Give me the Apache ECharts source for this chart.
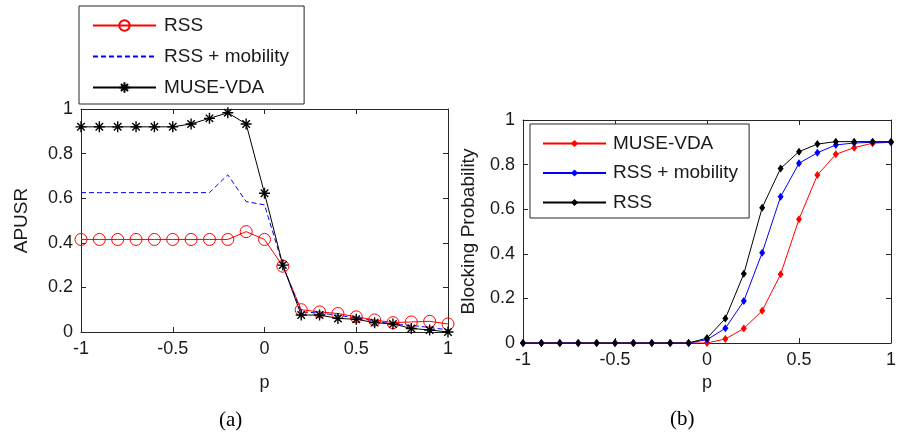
<!DOCTYPE html>
<html>
<head>
<meta charset="utf-8">
<script src="https://cdn.jsdelivr.net/npm/echarts@6/dist/echarts.min.js"></script>
<style>
  html, body { margin: 0; padding: 0; background: #fff; }
  #chart { width: 899px; height: 436px; }
</style>
</head>
<body>
<div id="chart"></div>
<script>
// p values shared by both panels
var pVals = [-1, -0.9, -0.8, -0.7, -0.6, -0.5, -0.4, -0.3, -0.2, -0.1, 0,
             0.1, 0.2, 0.3, 0.4, 0.5, 0.6, 0.7, 0.8, 0.9, 1];

// (a) APUSR
var apusrRss  = [0.415, 0.415, 0.415, 0.415, 0.415, 0.415, 0.415, 0.415, 0.415, 0.45, 0.415,
                 0.295, 0.10, 0.09, 0.083, 0.068, 0.054, 0.042, 0.045, 0.048, 0.036];
var apusrMob  = [0.625, 0.625, 0.625, 0.625, 0.625, 0.625, 0.625, 0.625, 0.705, 0.585, 0.57,
                 0.30, 0.09, 0.085, 0.075, 0.063, 0.05, 0.035, 0.03, 0.02, 0.01];
var apusrMuse = [0.92, 0.92, 0.92, 0.92, 0.92, 0.92, 0.933, 0.958, 0.983, 0.933, 0.622,
                 0.30, 0.076, 0.076, 0.061, 0.057, 0.042, 0.036, 0.016, 0.009, 0.0];

// (b) Blocking Probability
var bpMuse = [0, 0, 0, 0, 0, 0, 0, 0, 0, 0, 0,
              0.018, 0.065, 0.145, 0.308, 0.555, 0.753, 0.846, 0.876, 0.896, 0.9];
var bpMob  = [0, 0, 0, 0, 0, 0, 0, 0, 0, 0, 0.015,
              0.066, 0.188, 0.405, 0.656, 0.806, 0.853, 0.888, 0.897, 0.9, 0.9];
var bpRss  = [0, 0, 0, 0, 0, 0, 0, 0, 0, 0, 0.022,
              0.11, 0.31, 0.607, 0.783, 0.858, 0.892, 0.903, 0.903, 0.903, 0.903];

function pairs(ys) {
  return pVals.map(function (p, i) { return [p, ys[i]]; });
}

var FONT = 'Liberation Sans, Arial, sans-serif';
var TXT = '#1a1a1a';
var AX = '#262626';
var asterisk = 'path://M5,0L5,10M0,5L10,5M1.6,1.6L8.4,8.4M8.4,1.6L1.6,8.4';

function xAx(grid, bottom, gap) {
  return {
    type: 'value', gridIndex: grid, min: -1, max: 1, interval: 0.5,
    position: bottom ? 'bottom' : 'top',
    name: bottom ? 'p' : '', nameLocation: 'middle', nameGap: gap,
    nameTextStyle: { fontFamily: FONT, fontSize: 18, color: TXT },
    axisLine: { show: true, onZero: false, lineStyle: { color: AX, width: 1 } },
    axisTick: { show: true, inside: true, length: 5, lineStyle: { color: AX } },
    axisLabel: { show: bottom, margin: 8, fontFamily: FONT, fontSize: 18, color: TXT },
    splitLine: { show: false }
  };
}
function yAx(grid, left, name, gap) {
  return {
    type: 'value', gridIndex: grid, min: 0, max: 1, interval: 0.2,
    position: left ? 'left' : 'right',
    name: left ? name : '', nameLocation: 'middle', nameGap: gap, nameRotate: 90,
    nameTextStyle: { fontFamily: FONT, fontSize: 19, color: TXT },
    axisLine: { show: true, onZero: false, lineStyle: { color: AX, width: 1 } },
    axisTick: { show: true, inside: true, length: 5, lineStyle: { color: AX } },
    axisLabel: { show: left, margin: 8, fontFamily: FONT, fontSize: 18, color: TXT },
    splitLine: { show: false }
  };
}

var chart = echarts.init(document.getElementById('chart'), null, { renderer: 'canvas' });

chart.setOption({
  backgroundColor: '#fff',
  animation: false,
  grid: [
    { left: 81, top: 109, width: 367, height: 223 },
    { left: 523, top: 120, width: 376, height: 223 }
  ],
  xAxis: [xAx(0, true, 42), xAx(0, false, 0), xAx(1, true, 29), xAx(1, false, 0)],
  yAxis: [yAx(0, true, 'APUSR', 50), yAx(0, false, '', 0),
          yAx(1, true, 'Blocking Probability', 45), yAx(1, false, '', 0)],
  legend: [
    {
      orient: 'vertical', left: 79, top: 6,
      data: ['RSS',
             { name: 'RSS + mobility', itemStyle: { color: 'rgba(0,0,0,0)', borderWidth: 0, opacity: 0 } },
             'MUSE-VDA'],
      itemWidth: 63, itemHeight: 13, itemGap: 12,
      padding: [10, 15, 7, 13],
      borderColor: AX, borderWidth: 1,
      textStyle: { fontFamily: FONT, fontSize: 19, color: TXT, padding: [0, 0, 0, 3] }
    },
    {
      orient: 'vertical', left: 530, top: 124,
      data: ['b:MUSE-VDA', 'b:RSS + mobility', 'b:RSS'],
      formatter: function (n) { return n.replace(/^b:/, ''); },
      itemWidth: 63, itemHeight: 9, itemGap: 10.5,
      padding: [10, 11, 6, 12],
      borderColor: AX, borderWidth: 1, backgroundColor: '#fff',
      textStyle: { fontFamily: FONT, fontSize: 19, color: TXT, padding: [0, 0, 0, 2] }
    }
  ],
  series: [
    {
      name: 'RSS', type: 'line', xAxisIndex: 0, yAxisIndex: 0,
      data: pairs(apusrRss), symbol: 'circle', symbolSize: 12,
      lineStyle: { color: '#ff0000', width: 1 },
      itemStyle: { color: 'rgba(0,0,0,0)', borderColor: '#ff0000', borderWidth: 1 }
    },
    {
      name: 'RSS + mobility', type: 'line', xAxisIndex: 0, yAxisIndex: 0,
      data: pairs(apusrMob), symbol: 'none',
      lineStyle: { color: '#0000ff', width: 1, type: [5, 3] },
      itemStyle: { color: '#0000ff' }
    },
    {
      name: 'MUSE-VDA', type: 'line', xAxisIndex: 0, yAxisIndex: 0,
      data: pairs(apusrMuse), symbol: asterisk, symbolSize: 11,
      lineStyle: { color: '#000', width: 1 },
      itemStyle: { color: '#000', borderColor: '#000', borderWidth: 1.4 }
    },
    {
      name: 'b:MUSE-VDA', type: 'line', xAxisIndex: 2, yAxisIndex: 2,
      data: pairs(bpMuse), symbol: 'diamond', symbolSize: [6, 8],
      lineStyle: { color: '#ff0000', width: 1 }, itemStyle: { color: '#ff0000' }
    },
    {
      name: 'b:RSS + mobility', type: 'line', xAxisIndex: 2, yAxisIndex: 2,
      data: pairs(bpMob), symbol: 'diamond', symbolSize: [6, 8],
      lineStyle: { color: '#0000ff', width: 1 }, itemStyle: { color: '#0000ff' }
    },
    {
      name: 'b:RSS', type: 'line', xAxisIndex: 2, yAxisIndex: 2,
      data: pairs(bpRss), symbol: 'diamond', symbolSize: [6, 8],
      lineStyle: { color: '#000', width: 1 }, itemStyle: { color: '#000' }
    }
  ],
  graphic: [
    { type: 'text', left: 219, top: 410,
      style: { text: '(a)', font: '21px "Liberation Serif", "Times New Roman", serif', fill: '#000' } },
    { type: 'text', left: 670, top: 409,
      style: { text: '(b)', font: '21px "Liberation Serif", "Times New Roman", serif', fill: '#000' } }
  ]
});
</script>
</body>
</html>
